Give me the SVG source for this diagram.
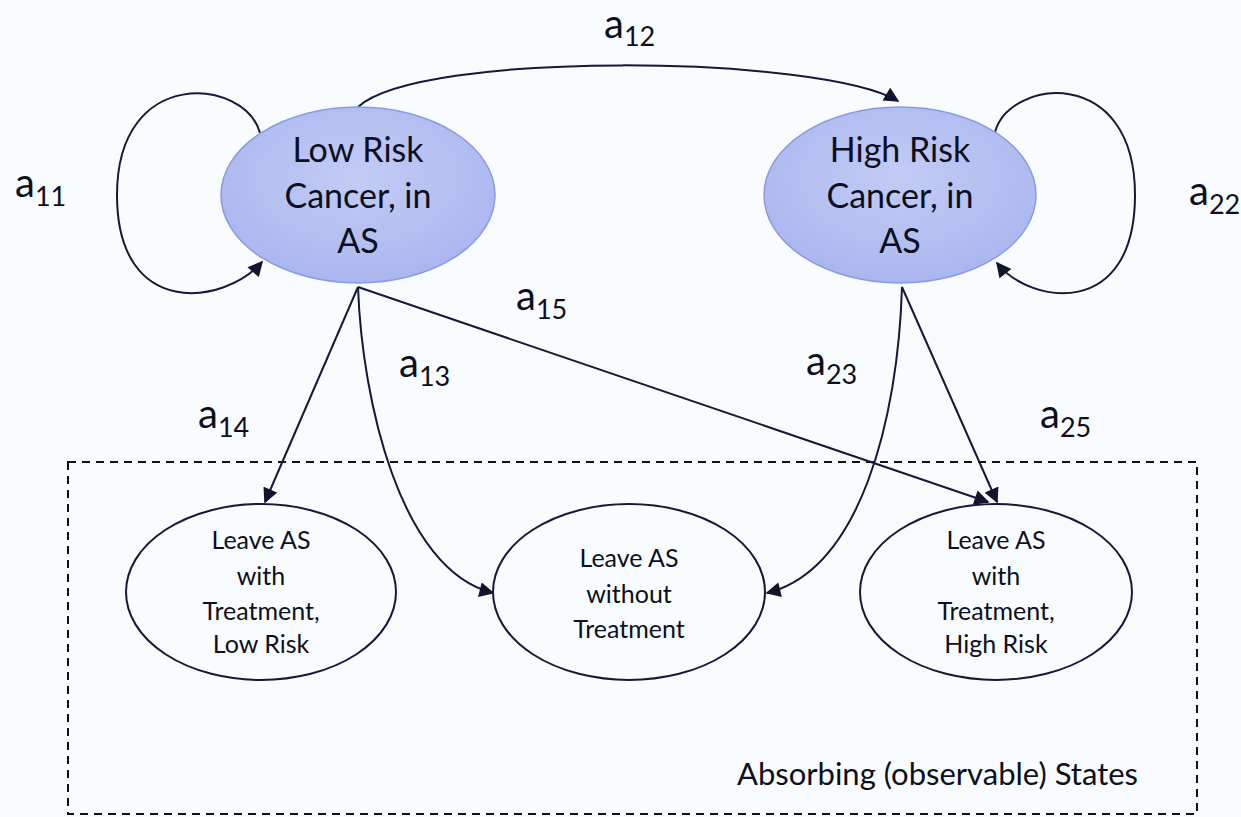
<svg xmlns="http://www.w3.org/2000/svg" width="1241" height="817" viewBox="0 0 1241 817">
<defs>
<marker id="arr" viewBox="0 0 10 10" refX="9" refY="5" markerWidth="16" markerHeight="15" markerUnits="userSpaceOnUse" orient="auto">
<path d="M0,0 L10,5 L0,10 z" fill="#11142a"/>
</marker>
<radialGradient id="blue" cx="50%" cy="40%" r="60%">
<stop offset="0" stop-color="#c3ccf6"/>
<stop offset="1" stop-color="#aab6ef"/>
</radialGradient>
</defs>
<style>
.bg{fill:#f9fcfe}
.main{fill:url(#blue);stroke:#8d9ae2;stroke-width:1.5}
.abs{fill:#f9fcfe;stroke:#14183a;stroke-width:2}
.edge{fill:none;stroke:#14183a;stroke-width:2;marker-end:url(#arr)}
.box{fill:none;stroke:#111;stroke-width:2;stroke-dasharray:8,6}
.t1{font-family:Lato,"Open Sans",sans-serif;font-size:34px;fill:#0d0f20;text-anchor:middle}
.t2{font-family:Lato,"Open Sans",sans-serif;font-size:25px;fill:#0d0f20;text-anchor:middle}
.t3{font-family:Lato,"Open Sans",sans-serif;font-size:31px;fill:#0d0f20}
.lab{font-family:Lato,"Open Sans",sans-serif;font-size:40px;fill:#0d0f20}
.sub{font-size:27px}
</style>
<rect class="bg" x="0" y="0" width="1241" height="817"/>
<rect class="box" x="68" y="462" width="1129" height="352"/>
<g id="connectors">
<path class="edge" d="M260,133 C245,78 117,65 117,195 C117,320 225,305 262,262"/>
<path class="edge" d="M995,132 C1010,78 1135,65 1135,195 C1135,320 1030,305 997,263"/>
<path class="edge" d="M358,107 C420,50 820,55 898,101"/>
<path class="edge" d="M358,287 L265,502"/>
<path class="edge" d="M358,287 C362,400 400,570 493,593"/>
<path class="edge" d="M358,287 L988,502"/>
<path class="edge" d="M902,287 C898,420 860,570 767,593"/>
<path class="edge" d="M902,287 L997,502"/>
</g>
<g id="labels">
<text class="lab" x="15" y="197">a<tspan class="sub" dy="9">11</tspan></text>
<text class="lab" x="1189" y="205">a<tspan class="sub" dy="9">22</tspan></text>
<text class="lab" x="604" y="38">a<tspan class="sub" dy="8">12</tspan></text>
<text class="lab" x="516" y="310">a<tspan class="sub" dy="9">15</tspan></text>
<text class="lab" x="399" y="377">a<tspan class="sub" dy="9">13</tspan></text>
<text class="lab" x="198" y="428">a<tspan class="sub" dy="9">14</tspan></text>
<text class="lab" x="806" y="375">a<tspan class="sub" dy="9">23</tspan></text>
<text class="lab" x="1040" y="428">a<tspan class="sub" dy="9">25</tspan></text>
</g>
<g id="low-risk">
<ellipse class="main" cx="358" cy="195" rx="137" ry="88"/>
<text class="t1" x="358" y="162">Low Risk</text>
<text class="t1" x="358" y="208">Cancer, in</text>
<text class="t1" x="358" y="253">AS</text>
</g>
<g id="high-risk">
<ellipse class="main" cx="900" cy="195" rx="136" ry="88"/>
<text class="t1" x="900" y="162">High Risk</text>
<text class="t1" x="900" y="208">Cancer, in</text>
<text class="t1" x="900" y="253">AS</text>
</g>
<g id="leave-low">
<ellipse class="abs" cx="261" cy="592" rx="135" ry="88"/>
<text class="t2" x="261" y="549">Leave AS</text>
<text class="t2" x="261" y="585">with</text>
<text class="t2" x="261" y="620">Treatment,</text>
<text class="t2" x="261" y="653">Low Risk</text>
</g>
<g id="leave-none">
<ellipse class="abs" cx="629" cy="592" rx="136" ry="88"/>
<text class="t2" x="629" y="567">Leave AS</text>
<text class="t2" x="629" y="603">without</text>
<text class="t2" x="629" y="638">Treatment</text>
</g>
<g id="leave-high">
<ellipse class="abs" cx="996" cy="592" rx="136" ry="88"/>
<text class="t2" x="996" y="549">Leave AS</text>
<text class="t2" x="996" y="585">with</text>
<text class="t2" x="996" y="620">Treatment,</text>
<text class="t2" x="996" y="653">High Risk</text>
</g>
<text class="t3" x="737" y="785">Absorbing (observable) States</text>
</svg>
